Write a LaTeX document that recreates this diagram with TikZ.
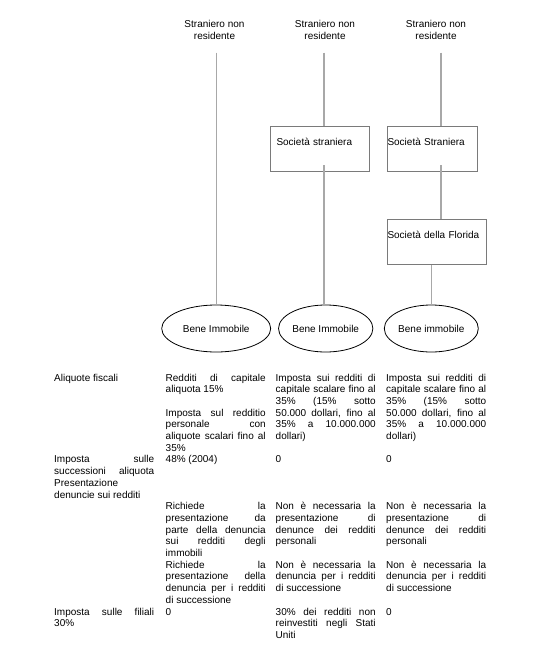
\documentclass[tikz,border=0pt]{standalone}
\usepackage{fontspec}
\setmainfont{Liberation Sans}
\usetikzlibrary{shapes.geometric}
\definecolor{linegrey}{HTML}{A8A8A8}
\definecolor{boxgrey}{HTML}{7A7A7A}
\tolerance=10000
\hbadness=10000
\hyphenpenalty=10000
\tikzset{
  every picture/.style={font=\fontsize{10}{11.7}\selectfont},
  head/.style={align=center, inner sep=0pt},
  company/.style={draw=boxgrey, line width=1pt, anchor=north west, inner ysep=0pt, text height=18.8pt, text depth=26.5pt, align=left},
  estate/.style={draw=black, ellipse, line width=0.8pt, inner sep=0pt, minimum height=47pt},
  link/.style={draw=linegrey, line width=1.3pt},
  cell/.style={text width=100pt, align=justify, anchor=base west, inner sep=0pt},
}
\begin{document}
\begin{tikzpicture}[x=1pt, y=-1pt]
  \useasboundingbox (0,0) rectangle (543,653);

  % owners
  \node[head] (top1) at (214.5,30) {Straniero non\\residente};
  \node[head] (top2) at (325,30)   {Straniero non\\residente};
  \node[head] (top3) at (436,30)   {Straniero non\\residente};
  \coordinate (c2) at (324,0);
  \coordinate (c3) at (441,0);

  % companies
  \node[company, inner xsep=6pt, text width=87pt] (soc2) at (270,125.7) {Società straniera};
  \node[company, inner xsep=0pt, text width=89.7pt] (soc3) at (387,125.7) {Società Straniera};
  \node[company, inner xsep=0pt, text width=98.7pt] (flo) at (387,218.7) {Società della Florida};

  % real estate
  \node[estate, minimum width=109pt] (ell1) at (216.2,328.5) {Bene Immobile};
  \node[estate, minimum width=93.3pt] (ell2) at (325.7,328.5) {Bene Immobile};
  \node[estate, minimum width=94pt] (ell3) at (431.3,328.5) {Bene immobile};

  \draw[link, shorten <=13pt] (top1.south -| ell1.north) -- (ell1.north);
  \draw[link, shorten <=13pt] (top2.south -| c2) -- (soc2.north -| c2);
  \draw[link, shorten <=-7pt] (soc2.south -| c2) -- (ell2.north -| c2);
  \draw[link, shorten <=13pt] (top3.south -| c3) -- (soc3.north -| c3);
  \draw[link, shorten <=-7pt] (soc3.south -| c3) -- (flo.north -| c3);
  \draw[link] (flo.south -| ell3.north) -- (ell3.north);

  % table, first column
  \node[cell] (lab1) at (54,381)   {Aliquote fiscali};
  \node[cell] (lab2) at (54,462.9) {Imposta sulle\linebreak successioni aliquota Presentazione\linebreak denuncie sui redditi};
  \node[cell] (lab3) at (54,615)   {Imposta sulle filiali\linebreak 30\%};

  % table, second column
  \node[cell] (a1) at (165.5,381)   {Redditi di capitale\linebreak aliquota 15\%};
  \node[cell] (a2) at (165.5,416.1) {Imposta sul redditio\linebreak personale con\linebreak aliquote scalari fino al\linebreak 35\%};
  \node[cell] (a3) at (165.5,462.9) {48\% (2004)};
  \node[cell] (a4) at (165.5,509.7) {Richiede la\linebreak presentazione da\linebreak parte della denuncia\linebreak sui redditi degli\linebreak immobili};
  \node[cell] (a5) at (165.5,568.2) {Richiede la\linebreak presentazione della\linebreak denuncia per i redditi\linebreak di successione};
  \node[cell] (a6) at (165.5,615)   {0};

  % table, third column
  \node[cell] (b1) at (275.5,381)   {Imposta sui redditi di\linebreak capitale scalare fino al\linebreak 35\% (15\% sotto\linebreak 50.000 dollari, fino al\linebreak 35\% a 10.000.000\linebreak dollari)};
  \node[cell] (b2) at (275.5,462.9) {0};
  \node[cell] (b3) at (275.5,509.7) {Non è necessaria la\linebreak presentazione di\linebreak denunce dei redditi\linebreak personali};
  \node[cell] (b4) at (275.5,568.2) {Non è necessaria la\linebreak denuncia per i redditi\linebreak di successione};
  \node[cell] (b5) at (275.5,615)   {30\% dei redditi non\linebreak reinvestiti negli Stati\linebreak Uniti};

  % table, fourth column
  \node[cell] (d1) at (386,381)   {Imposta sui redditi di\linebreak capitale scalare fino al\linebreak 35\% (15\% sotto\linebreak 50.000 dollari, fino al\linebreak 35\% a 10.000.000\linebreak dollari)};
  \node[cell] (d2) at (386,462.9) {0};
  \node[cell] (d3) at (386,509.7) {Non è necessaria la\linebreak presentazione di\linebreak denunce dei redditi\linebreak personali};
  \node[cell] (d4) at (386,568.2) {Non è necessaria la\linebreak denuncia per i redditi\linebreak di successione};
  \node[cell] (d5) at (386,615)   {0};
\end{tikzpicture}
\end{document}
